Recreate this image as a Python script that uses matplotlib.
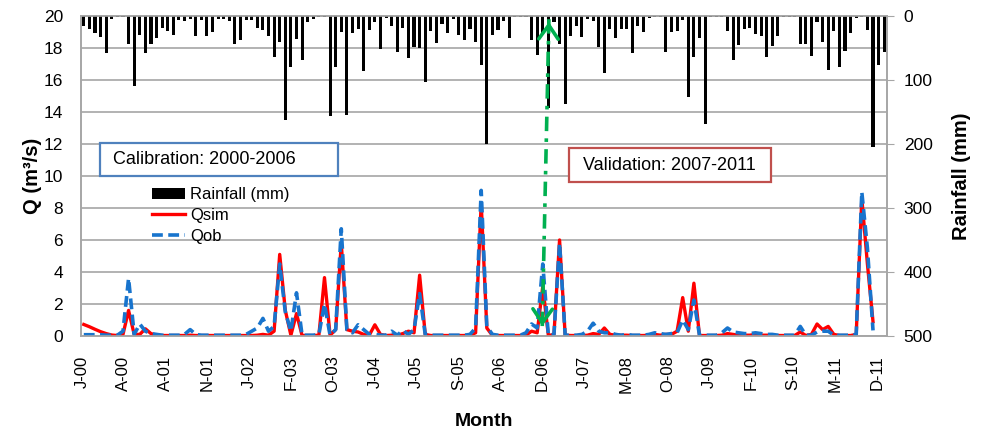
import numpy as np
import matplotlib.pyplot as plt
from matplotlib.patches import Rectangle

plt.rcParams['font.family'] = ['Liberation Sans', 'DejaVu Sans']

# --- Monthly data, Jan 2000 - Dec 2011 ---
rainfall = [
    15, 21, 27, 33, 58, 5, 2, 2, 43, 109, 30, 58,
    43, 34, 18, 24, 30, 6, 8, 5, 32, 6, 32, 25,
    5, 4, 8, 44, 38, 6, 7, 18, 22, 32, 64, 40,
    162, 79, 36, 69, 9, 5, 2, 1, 157, 79, 25, 154,
    26, 20, 86, 22, 9, 52, 3, 15, 56, 18, 66, 48,
    50, 103, 24, 42, 12, 26, 4, 30, 38, 20, 40, 77,
    200, 30, 22, 8, 35, 2, 2, 2, 38, 61, 27, 144,
    10, 43, 138, 31, 15, 33, 4, 8, 48, 89, 21, 34,
    20, 20, 58, 16, 25, 3, 2, 2, 56, 25, 23, 6,
    126, 64, 35, 168, 2, 2, 2, 24, 69, 45, 20, 18,
    28, 32, 64, 47, 31, 2, 2, 2, 43, 43, 62, 10,
    40, 84, 24, 79, 55, 27, 3, 2, 22, 204, 77, 56,
]

nan = np.nan
q_sim = [
    0.72, 0.58, 0.42, 0.27, 0.15, 0.06, 0.03, 0.1, 1.6, 0.1, 0.1, 0.45,
    0.15, 0.05, 0.03, 0.03, 0.03, 0.03, 0.03, 0.05, 0.03, 0.03, 0.03, 0.03,
    0.03, 0.03, 0.03, 0.03, 0.03, 0.03, 0.03, 0.05, 0.1, 0.05, 0.3, 5.1,
    1.6, 0.05, 1.4, 0.03, 0.03, 0.03, 0.05, 3.65, 0.05, 0.4, 5.8, 0.4,
    0.3, 0.25, 0.1, 0.05, 0.7, 0.1, 0.03, 0.05, 0.05, 0.15, 0.3, 0.2,
    3.8, 0.1, 0.03, 0.03, 0.03, 0.03, 0.03, 0.03, 0.03, 0.05, 0.2, 8.3,
    0.5, 0.03, 0.03, 0.03, 0.03, 0.03, 0.03, 0.05, 0.3, 0.2, 3.1, 0.03,
    0.1, 6.0, 0.05, 0.03, 0.03, 0.03, 0.05, 0.15, 0.1, 0.5, 0.1, 0.05,
    0.05, 0.05, 0.03, 0.03, 0.03, 0.05, 0.1, 0.05, 0.1, 0.1, 0.3, 2.4,
    0.3, 3.3, 0.03, 0.03, 0.03, 0.03, 0.05, 0.15, 0.1, 0.05, 0.05, 0.05,
    0.1, 0.05, 0.05, 0.03, 0.03, 0.03, 0.03, 0.03, 0.25, 0.03, 0.1, 0.75,
    0.4, 0.6, 0.1, 0.03, 0.03, 0.03, 0.1, 8.6, 4.5, 0.9, nan, nan,
]

q_ob = [
    0.08, 0.08, 0.08, 0.08, 0.05, 0.05, 0.05, 0.3, 3.6, 0.1, 0.75, 0.3,
    0.15, 0.1, 0.05, 0.05, 0.05, 0.05, 0.1, 0.4, 0.1, 0.05, 0.05, 0.05,
    0.05, 0.05, 0.05, 0.05, 0.05, 0.1, 0.3, 0.5, 1.1, 0.3, 0.6, 4.5,
    1.5, 0.3, 2.7, 0.05, 0.05, 0.05, 0.1, 2.0, 0.05, 0.4, 6.7, 0.4,
    0.2, 0.7, 0.4, 0.1, 0.1, 0.05, 0.05, 0.3, 0.05, 0.35, 0.1, 0.4,
    2.65, 0.1, 0.05, 0.05, 0.05, 0.05, 0.05, 0.05, 0.05, 0.1, 0.5, 9.1,
    0.6, 0.1, 0.05, 0.05, 0.05, 0.05, 0.05, 0.2, 0.75, 0.5, 4.5, 0.05,
    0.1, 5.8, 0.05, 0.05, 0.05, 0.1, 0.3, 0.8, 0.3, 0.2, 0.2, 0.1,
    0.05, 0.1, 0.05, 0.05, 0.05, 0.1, 0.2, 0.15, 0.1, 0.15, 0.2, 1.0,
    0.4, 2.25, 0.05, 0.05, 0.05, 0.05, 0.2, 0.5, 0.25, 0.2, 0.15, 0.15,
    0.2, 0.15, 0.1, 0.1, 0.05, 0.05, 0.05, 0.05, 0.6, 0.05, 0.05, 0.25,
    0.3, 0.3, 0.05, 0.05, 0.05, 0.05, 0.1, 9.0, 5.5, 0.35, nan, nan,
]

tick_labels = ['J-00', 'A-00', 'A-01', 'N-01', 'J-02', 'F-03', 'O-03', 'J-04',
               'J-05', 'S-05', 'A-06', 'D-06', 'J-07', 'M-08', 'O-08', 'J-09',
               'F-10', 'S-10', 'M-11', 'D-11']

# calibration / validation split arrow (month index, Q)
ARROW_TOP = (83.1, 19.8)
ARROW_BOTTOM = (81.9, 0.45)

months = np.arange(len(rainfall))
tick_pos = np.linspace(-0.3, 141.7, len(tick_labels))

GREY = '#A6A6A6'
GREEN = '#00B050'

fig = plt.figure(figsize=(9.81, 4.33), dpi=100)
ax = fig.add_axes([81 / 981, 97 / 433, 806 / 981, 320 / 433])
ax2 = ax.twinx()

# --- discharge lines ---
l_sim, = ax.plot(months, q_sim, color='#FF0000', lw=2.4, zorder=3)
l_ob, = ax.plot(months, q_ob, color='#1874CD', lw=2.6, dashes=(3.0, 1.5), zorder=4)

ax.set_xlim(-0.5, 143.5)
ax.set_ylim(0, 20)
ax.set_yticks(range(0, 21, 2))
ax.yaxis.grid(True, color=GREY, lw=1.2)
ax.set_axisbelow(True)
ax.set_xticks(tick_pos)
ax.set_xticklabels(tick_labels, rotation=90, fontsize=12)
ax.tick_params(axis='x', length=0, pad=14)
ax.tick_params(axis='y', length=0, pad=13, labelsize=12.5)
for s in ax.spines.values():
    s.set_color(GREY)
    s.set_linewidth(1.2)

ax.set_ylabel('Q (m³/s)', fontsize=14.5, fontweight='bold', labelpad=1)
ax.set_xlabel('Month', fontsize=14, fontweight='bold', labelpad=14)

# --- rainfall bars, inverted secondary axis ---
bars = ax2.bar(months, rainfall, width=0.55, color='black', zorder=2)
ax2.set_ylim(500, 0)
ax2.set_yticks(range(0, 501, 100))
ax2.tick_params(axis='y', length=5, color=GREY, pad=7, labelsize=12.5)
for s in ax2.spines.values():
    s.set_color(GREY)
    s.set_linewidth(1.2)
ax2.set_ylabel('Rainfall (mm)', fontsize=14.5, fontweight='bold', labelpad=14)

# --- split arrow ---
ax2.plot([ARROW_TOP[0], ARROW_BOTTOM[0]], [ARROW_TOP[1], ARROW_BOTTOM[1]],
         color=GREEN, lw=2.6, dashes=(4, 2, 1, 2), transform=ax.transData, zorder=6)
for tip, tail_dq in [(ARROW_TOP, -0.8), (ARROW_BOTTOM, 0.8)]:
    tail = (tip[0] + (ARROW_BOTTOM[0] - ARROW_TOP[0]) * (-tail_dq / 19.35), tip[1] + tail_dq)
    ax2.annotate('', xy=tip, xytext=tail, xycoords=ax.transData, textcoords=ax.transData,
                 arrowprops=dict(arrowstyle='->,head_length=0.5,head_width=0.35',
                                 color=GREEN, lw=2.6, mutation_scale=20), zorder=6)

# --- period boxes ---
ax2.add_patch(Rectangle((0.0236, 0.50), 0.295, 0.103, transform=ax.transAxes,
                        fill=True, facecolor='white', edgecolor='#4F81BD', lw=1.6, zorder=7))
ax2.text(0.1526, 0.5516, 'Calibration: 2000-2006', transform=ax.transAxes,
         ha='center', va='center', fontsize=13, zorder=8)
ax2.add_patch(Rectangle((0.6055, 0.481), 0.2506, 0.106, transform=ax.transAxes,
                        fill=True, facecolor='white', edgecolor='#C0504D', lw=1.6, zorder=7))
ax2.text(0.7295, 0.534, 'Validation: 2007-2011', transform=ax.transAxes,
         ha='center', va='center', fontsize=13, zorder=8)

# --- legend ---
ax2.legend([bars, l_sim, l_ob], ['Rainfall (mm)', 'Qsim', 'Qob'],
           loc='upper left', bbox_to_anchor=(0.088, 0.465), bbox_transform=ax.transAxes,
           frameon=False, fontsize=12, handlelength=2.0, handleheight=0.6,
           handletextpad=0.3, labelspacing=0.35, borderpad=0, borderaxespad=0)

fig.savefig('out.png', dpi=100)
